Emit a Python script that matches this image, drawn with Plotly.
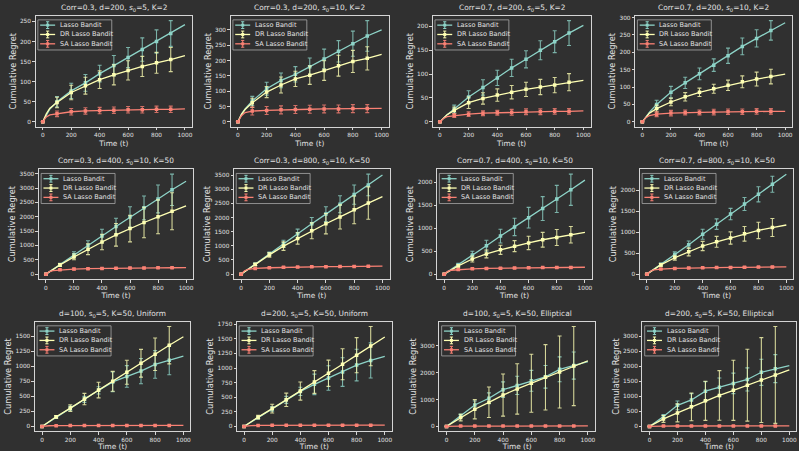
import plotly.graph_objects as go

W, H = 799, 451
BG = "#303030"
FG = "#e2e2e2"
SPINE = "#d4d4d4"
FONT = "DejaVu Sans"

# ---------------- data ----------------
T_LINE = [0, 25, 50, 100, 200, 300, 400, 500, 600, 700, 800, 900, 1000]
T_MARK = [0, 100, 200, 300, 400, 500, 600, 700, 800, 900]
X_TICKS = [0, 200, 400, 600, 800, 1000]
Y_DTICK = [50, 50, 50, 50, 500, 500, 500, 500, 250, 250, 1000, 500]
SERIES = ["Lasso Bandit", "DR Lasso Bandit", "SA Lasso Bandit"]
TITLES = [
    "Corr=0.3, d=200, <i>s</i><sub>0</sub>=5, K=2",
    "Corr=0.3, d=200, <i>s</i><sub>0</sub>=10, K=2",
    "Corr=0.7, d=200, <i>s</i><sub>0</sub>=5, K=2",
    "Corr=0.7, d=200, <i>s</i><sub>0</sub>=10, K=2",
    "Corr=0.3, d=400, <i>s</i><sub>0</sub>=10, K=50",
    "Corr=0.3, d=800, <i>s</i><sub>0</sub>=10, K=50",
    "Corr=0.7, d=400, <i>s</i><sub>0</sub>=10, K=50",
    "Corr=0.7, d=800, <i>s</i><sub>0</sub>=10, K=50",
    "d=100, s<sub>0</sub>=5, K=50, Uniform",
    "d=200, s<sub>0</sub>=5, K=50, Uniform",
    "d=100, <i>s</i><sub>0</sub>=5, K=50, Elliptical",
    "d=200, <i>s</i><sub>0</sub>=5, K=50, Elliptical",
]

# mean cumulative regret at T_LINE
LASSO_LINE = [
    [0, 18, 32, 50, 77, 97, 120, 140, 160, 180, 200, 220, 242],
    [0, 25, 42, 68, 108, 135, 155, 180, 205, 230, 255, 280, 300],
    [0, 8, 15, 27, 52, 72, 92, 113, 131, 150, 168, 186, 202],
    [0, 15, 28, 50, 85, 112, 138, 163, 190, 217, 240, 263, 285],
    [0, 85, 165, 330, 680, 1000, 1330, 1660, 1990, 2310, 2620, 2940, 3240],
    [0, 90, 175, 350, 720, 1070, 1430, 1780, 2120, 2470, 2810, 3150, 3500],
    [0, 50, 100, 200, 420, 620, 830, 1030, 1230, 1430, 1640, 1840, 2050],
    [0, 58, 115, 230, 470, 700, 950, 1190, 1430, 1670, 1900, 2140, 2380],
    [0, 38, 76, 155, 300, 450, 600, 740, 830, 920, 1030, 1100, 1170],
    [0, 38, 75, 150, 300, 455, 600, 720, 830, 930, 1050, 1130, 1200],
    [0, 95, 190, 400, 800, 1050, 1370, 1530, 1700, 1850, 2130, 2270, 2420],
    [0, 80, 165, 330, 700, 880, 1170, 1300, 1430, 1560, 1800, 1920, 2020],
]
DR_LINE = [
    [0, 20, 34, 48, 73, 90, 105, 117, 128, 138, 147, 155, 165],
    [0, 24, 40, 62, 97, 120, 140, 152, 167, 183, 197, 207, 220],
    [0, 8, 15, 24, 40, 49, 56, 62, 68, 73, 77, 83, 87],
    [0, 14, 25, 38, 57, 72, 85, 95, 105, 115, 123, 130, 137],
    [0, 80, 160, 320, 600, 870, 1120, 1370, 1590, 1800, 2000, 2190, 2380],
    [0, 85, 170, 340, 680, 990, 1260, 1530, 1780, 2020, 2270, 2510, 2740],
    [0, 48, 95, 180, 330, 440, 530, 610, 680, 750, 800, 860, 910],
    [0, 55, 110, 220, 390, 530, 670, 770, 860, 960, 1040, 1110, 1170],
    [0, 40, 80, 160, 305, 455, 605, 750, 900, 1050, 1200, 1350, 1490],
    [0, 40, 80, 160, 305, 455, 605, 760, 910, 1065, 1220, 1375, 1530],
    [0, 80, 160, 330, 640, 900, 1170, 1400, 1610, 1830, 2030, 2250, 2450],
    [0, 60, 125, 250, 450, 650, 850, 1030, 1200, 1370, 1540, 1710, 1880],
]
SA_LINE = [
    [0, 12, 17, 20, 25, 27, 28, 29, 30, 30, 31, 31, 32],
    [0, 20, 30, 35, 37, 39, 40, 41, 42, 42, 43, 43, 44],
    [0, 7, 11, 13, 16, 18, 19, 20, 21, 21, 22, 22, 23],
    [0, 12, 18, 22, 25, 27, 27, 28, 29, 29, 30, 30, 30],
    [0, 90, 125, 150, 175, 190, 200, 207, 212, 217, 220, 222, 225],
    [0, 120, 165, 200, 225, 240, 250, 258, 263, 267, 272, 275, 280],
    [0, 60, 85, 100, 115, 125, 130, 135, 140, 142, 145, 147, 150],
    [0, 70, 100, 120, 135, 145, 150, 155, 160, 163, 167, 170, 172],
    [0, 8, 11, 13, 14, 15, 15, 16, 16, 16, 16, 17, 17],
    [0, 10, 14, 17, 19, 20, 20, 21, 21, 21, 22, 22, 22],
    [0, 8, 11, 13, 14, 15, 15, 15, 16, 16, 16, 16, 17],
    [0, 8, 11, 13, 14, 15, 15, 15, 16, 16, 16, 16, 17],
]

# error bar half-lengths at T_MARK
LASSO_ERR = [
    [0, 13, 19, 21, 21, 25, 25, 29, 29, 32],
    [0, 15, 21, 24, 25, 28, 32, 35, 41, 50],
    [0, 8, 13, 16, 16, 18, 18, 20, 23, 26],
    [0, 12, 17, 16, 17, 18, 22, 24, 25, 28],
    [0, 50, 100, 165, 235, 290, 360, 415, 485, 545],
    [0, 45, 60, 125, 160, 220, 260, 300, 340, 380],
    [0, 35, 80, 120, 150, 190, 225, 260, 295, 340],
    [0, 35, 60, 90, 120, 125, 135, 155, 180, 190],
    [0, 15, 40, 50, 60, 165, 180, 210, 230, 240],
    [0, 15, 40, 60, 70, 175, 210, 245, 270, 300],
    [0, 60, 150, 200, 290, 340, 390, 420, 465, 505],
    [0, 65, 145, 210, 320, 310, 340, 385, 435, 465],
]
DR_ERR = [
    [0, 13, 18, 21, 22, 25, 24, 25, 26, 30],
    [0, 15, 18, 26, 25, 30, 32, 34, 36, 38],
    [0, 7, 12, 12, 13, 14, 15, 16, 16, 18],
    [0, 10, 11, 12, 12, 13, 15, 17, 20, 21],
    [0, 50, 100, 190, 270, 395, 465, 530, 590, 645],
    [0, 40, 80, 150, 200, 280, 360, 425, 490, 570],
    [0, 30, 65, 85, 100, 120, 145, 160, 175, 180],
    [0, 30, 60, 95, 110, 130, 145, 175, 195, 215],
    [0, 22, 55, 95, 130, 165, 200, 230, 270, 310],
    [0, 30, 75, 115, 155, 195, 225, 265, 300, 335],
    [0, 125, 360, 570, 785, 940, 1080, 1220, 1345, 1475],
    [0, 115, 300, 460, 650, 825, 1000, 1195, 1410, 1610],
]
SA_ERR = [
    [0, 7, 8, 8, 8, 8, 8, 8, 8, 8],
    [0, 13, 13, 13, 13, 13, 13, 13, 13, 13],
    [0, 4, 5, 5, 5, 6, 6, 6, 6, 6],
    [0, 7, 8, 7, 7, 8, 8, 8, 8, 8],
    [0, 20, 25, 25, 25, 25, 25, 25, 25, 25],
    [0, 20, 20, 20, 20, 20, 20, 20, 20, 20],
    [0, 15, 15, 15, 15, 15, 15, 15, 15, 15],
    [0, 15, 15, 15, 15, 15, 15, 15, 15, 15],
    [0, 5, 5, 5, 5, 5, 5, 5, 5, 5],
    [0, 5, 5, 5, 5, 5, 5, 5, 5, 5],
    [0, 10, 10, 10, 10, 10, 10, 10, 10, 10],
    [0, 10, 10, 10, 10, 10, 10, 10, 10, 10],
]

# ---------------- styling / layout constants ----------------
COLORS = ["#8dd3c7", "#feffb3", "#fa8174"]
ERR_COLORS = ["rgba(141,211,199,0.8)", "rgba(254,255,179,0.8)", "rgba(250,129,116,0.8)"]
# axes boxes in pixels: left, top, right, bottom
BOXES = [
    (35.7, 14.7, 192.3, 126.7), (231.0, 14.7, 389.3, 126.7),
    (433.3, 14.7, 591.3, 126.7), (636.0, 14.7, 793.3, 126.7),
    (39.0, 169.3, 193.3, 280.0), (234.3, 169.3, 390.0, 280.0),
    (437.7, 169.3, 592.7, 280.0), (640.7, 169.3, 794.3, 280.0),
    (35.0, 322.7, 190.7, 433.3), (237.3, 322.7, 392.3, 433.3),
    (440.0, 322.7, 595.7, 433.3), (643.3, 322.7, 797.3, 433.3),
]


def px(x):
    return x / W


def py(y):
    return 1 - y / H


fig = go.Figure()
shapes = []
annotations = []

all_lines = [LASSO_LINE, DR_LINE, SA_LINE]
all_errs = [LASSO_ERR, DR_ERR, SA_ERR]
mark_idx = [T_LINE.index(t) for t in T_MARK]

for p in range(12):
    n = "" if p == 0 else str(p + 1)
    xa, ya = "x" + n, "y" + n
    lo_vals, hi_vals = [0], [0]
    for s in range(3):
        line = all_lines[s][p]
        err = all_errs[s][p]
        means = [line[i] for i in mark_idx]
        lo_vals += [m - e for m, e in zip(means, err)] + line
        hi_vals += [m + e for m, e in zip(means, err)] + line
        fig.add_trace(go.Scatter(
            x=T_LINE, y=line, mode="lines", xaxis=xa, yaxis=ya,
            line=dict(color=COLORS[s], width=1.3), showlegend=False,
            hoverinfo="skip"))
        fig.add_trace(go.Scatter(
            x=T_MARK, y=means, mode="markers", xaxis=xa, yaxis=ya,
            name=SERIES[s], showlegend=False,
            marker=dict(symbol="square", size=3.5, color=COLORS[s]),
            error_y=dict(type="data", array=err, visible=True,
                         color=ERR_COLORS[s], thickness=1.1, width=2)))
    lo, hi = min(lo_vals), max(hi_vals)
    span = hi - lo
    L, T, R, B = BOXES[p]
    axis_common = dict(
        showline=True, mirror=True, linecolor=SPINE, linewidth=1,
        showgrid=False, zeroline=False, ticks="outside", ticklen=2.5,
        tickwidth=0.8, tickcolor=SPINE,
        tickfont=dict(family=FONT, size=5.8, color=FG),
    )
    fig.layout["xaxis" + n] = dict(
        axis_common, domain=[px(L), px(R)], anchor=ya,
        range=[-50, 1050], tickvals=X_TICKS,
        title=dict(text="Time (t)", font=dict(family=FONT, size=7.4, color=FG), standoff=3),
    )
    fig.layout["yaxis" + n] = dict(
        axis_common, domain=[py(B), py(T)], anchor=xa,
        range=[lo - 0.05 * span, hi + 0.05 * span], tick0=0, dtick=Y_DTICK[p],
        title=dict(text="Cumulative Regret", font=dict(family=FONT, size=8.2, color=FG), standoff=2),
    )
    # subplot title
    annotations.append(dict(
        text=TITLES[p], x=px((L + R) / 2), y=py(T), xref="paper", yref="paper",
        xanchor="center", yanchor="bottom", yshift=1, showarrow=False,
        font=dict(family=FONT, size=7.4, color=FG)))
    # legend box (upper left, inside axes)
    lx, ly = L + 2.2, T + 4.3
    lw, lh = 74, 30.3
    shapes.append(dict(
        type="rect", xref="paper", yref="paper",
        x0=px(lx), x1=px(lx + lw), y0=py(ly + lh), y1=py(ly),
        fillcolor="rgba(48,48,48,0.8)", line=dict(color="#a8a8a8", width=0.8)))
    for s in range(3):
        cy = ly + 5.3 + 9.4 * s
        cx = lx + 9.8
        shapes.append(dict(type="line", xref="paper", yref="paper",
                           x0=px(lx + 2.3), x1=px(lx + 17.3), y0=py(cy), y1=py(cy),
                           line=dict(color=COLORS[s], width=1.3)))
        shapes.append(dict(type="line", xref="paper", yref="paper",
                           x0=px(cx), x1=px(cx), y0=py(cy - 3.4), y1=py(cy + 3.4),
                           line=dict(color=COLORS[s], width=1)))
        for dy in (-3.4, 3.4):
            shapes.append(dict(type="line", xref="paper", yref="paper",
                               x0=px(cx - 1.6), x1=px(cx + 1.6), y0=py(cy + dy), y1=py(cy + dy),
                               line=dict(color=COLORS[s], width=1)))
        shapes.append(dict(type="rect", xref="paper", yref="paper",
                           x0=px(cx - 1.5), x1=px(cx + 1.5), y0=py(cy + 1.5), y1=py(cy - 1.5),
                           fillcolor=COLORS[s], line=dict(width=0)))
        annotations.append(dict(
            text=SERIES[s], x=px(lx + 20), y=py(cy), xref="paper", yref="paper",
            xanchor="left", yanchor="middle", showarrow=False,
            font=dict(family=FONT, size=6.5, color=FG)))

fig.update_layout(
    width=W, height=H, autosize=False,
    margin=dict(l=0, r=0, t=0, b=0),
    paper_bgcolor=BG, plot_bgcolor=BG,
    showlegend=False,
    shapes=shapes, annotations=annotations,
    font=dict(family=FONT, color=FG),
)

fig.write_html(
    "out.html",
    config={"displayModeBar": False},
    post_script="document.body.style.margin='0';document.body.style.background='%s';" % BG,
)
